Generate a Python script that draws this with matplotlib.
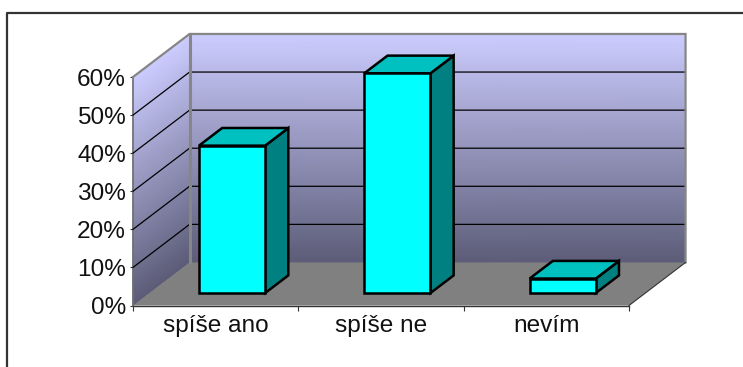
import matplotlib
matplotlib.use('Agg')
import matplotlib.pyplot as plt
import numpy as np
from matplotlib.lines import Line2D
from matplotlib.patches import Polygon

categories = ['spíše ano', 'spíše ne', 'nevím']
values = [38.7, 57.7, 3.8]
y_ticks = [0, 10, 20, 30, 40, 50, 60]

# oblique offset of the back wall, in axis units
DEPTH_X = 0.342
DEPTH_Y = 11.3
BAR_WIDTH = 0.4
# front faces sit this far into the box, boxes are this deep
BAR_START = 0.29
BAR_DEPTH = 0.41

WALL_TOP = np.array([204, 204, 255]) / 255
WALL_BOTTOM = np.array([92, 92, 120]) / 255


def shift(x, y, d):
    # d runs from 0 at the front of the floor to 1 at the back wall
    return x + d * DEPTH_X, y + d * DEPTH_Y


def wall_gradient(ax, xs, ds):
    # vertical gradient on a wall, skewed along with the depth
    xs = np.asarray(xs)
    ds = np.asarray(ds)
    levels = np.linspace(0, 60, 31)
    X = np.array([xs + ds * DEPTH_X for _ in levels])
    Y = np.array([lv + ds * DEPTH_Y for lv in levels])
    t = np.array([[lv / 60] * len(xs) for lv in levels])
    rgb = WALL_BOTTOM + (WALL_TOP - WALL_BOTTOM) * t[..., None]
    Z = np.zeros(X.shape)
    mesh = ax.pcolormesh(X, Y, Z, shading='gouraud', clip_on=False, zorder=1)
    mesh.set_array(None)
    mesh.set_facecolor(np.c_[rgb.reshape(-1, 3), np.ones(rgb.size // 3)])


plt.rcParams['font.family'] = ['Liberation Sans', 'DejaVu Sans']

W, H = 743, 367
fig = plt.figure(figsize=(W / 100, H / 100), dpi=100)
ax = fig.add_axes([133 / W, 1 - 305.5 / H, 496 / W, 228.5 / H])
ax.set_xlim(0, len(categories))
ax.set_ylim(0, 60)

# outer chart frame
fig.add_artist(Line2D([7.5 / W, 7.5 / W, 1], [0, 1 - 13 / H, 1 - 13 / H], color='#333333', lw=1.6))

n = len(categories)
wall_gradient(ax, [0, n], [1, 1])
wall_gradient(ax, [0, 0], [0, 1])

# floor
floor = [shift(0, 0, 0), shift(n, 0, 0), shift(n, 0, 1), shift(0, 0, 1)]
ax.add_patch(Polygon(floor, closed=True, fc='#808080', ec='none', clip_on=False, zorder=2))

# grid lines on both walls
for t in y_ticks[1:-1]:
    ax.plot(*zip(shift(0, t, 0), shift(0, t, 1), shift(n, t, 1)), color='black', lw=0.9,
            clip_on=False, zorder=3)

# wall outlines
ax.plot(*zip(shift(0, 60, 0), shift(0, 60, 1), shift(n, 60, 1), shift(n, 0, 1)), color='#868686',
        lw=1.6, clip_on=False, zorder=3, solid_joinstyle='miter')
ax.plot(*zip(shift(0, 60, 1), shift(0, 0, 1)), color='#868686', lw=2.2, clip_on=False, zorder=3)
ax.plot(*zip(shift(n, 0, 0), shift(n, 0, 1)), color='#333333', lw=0.8, clip_on=False, zorder=3)

# boxes
for i, v in enumerate(values):
    x0 = i + 0.5 - BAR_WIDTH / 2
    x1 = i + 0.5 + BAR_WIDTH / 2
    d0 = BAR_START
    d1 = BAR_START + BAR_DEPTH
    faces = [
        ([shift(x1, 0, d0), shift(x1, 0, d1), shift(x1, v, d1), shift(x1, v, d0)], '#008080'),
        ([shift(x0, v, d0), shift(x1, v, d0), shift(x1, v, d1), shift(x0, v, d1)], '#00C0C0'),
        ([shift(x0, 0, d0), shift(x1, 0, d0), shift(x1, v, d0), shift(x0, v, d0)], '#00FFFF'),
    ]
    for pts, colour in faces:
        ax.add_patch(Polygon(pts, closed=True, fc=colour, ec='black', lw=1.8, clip_on=False,
                             zorder=4, joinstyle='miter'))

for side in ['top', 'right']:
    ax.spines[side].set_visible(False)
ax.spines['left'].set_color('#6e6e6e')
ax.spines['left'].set_linewidth(1.2)
ax.spines['bottom'].set_color('#333333')
ax.spines['bottom'].set_linewidth(1.0)
ax.patch.set_visible(False)

ax.set_xticks(range(n + 1))
ax.set_xticks([i + 0.5 for i in range(n)], minor=True)
ax.set_xticklabels([])
ax.set_xticklabels(categories, minor=True, fontsize=17.6, color='#111111')
ax.tick_params(axis='x', which='major', length=3.5, width=0.8, color='#333333')
ax.tick_params(axis='x', which='minor', length=0, pad=7)
ax.set_yticks(y_ticks)
ax.set_yticklabels([f'{t}%' for t in y_ticks], fontsize=17.6, color='#111111')
ax.tick_params(axis='y', length=2.5, width=0.8, color='#333333', pad=2.5)

fig.savefig('out.png', dpi=100)
plt.close(fig)
